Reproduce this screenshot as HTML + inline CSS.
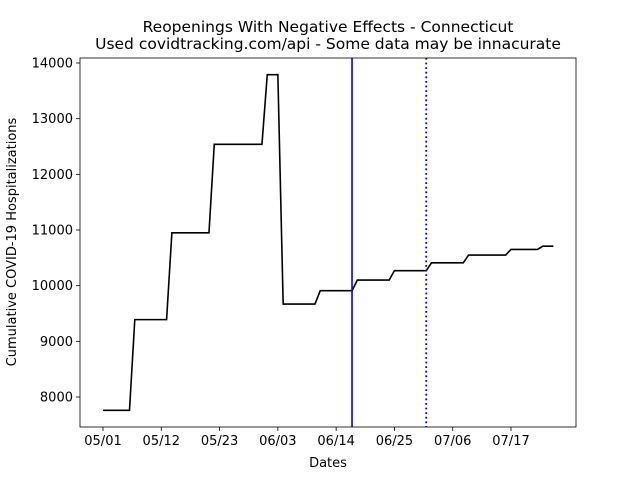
<!DOCTYPE html>
<html><head><meta charset="utf-8"><style>
body{margin:0;background:#fff;}
svg{display:block;font-family:"DejaVu Sans","Liberation Sans",sans-serif;}
</style></head><body>
<svg id="chart" width="640" height="480" viewBox="0 0 640 480"></svg>
<script>
// day offsets from 05/01
const tickDays=[0,11,22,33,44,55,66,77];
const tickLabels=["05/01","05/12","05/23","06/03","06/14","06/25","07/06","07/17"];
const yTicks=[8000,9000,10000,11000,12000,13000,14000];
const values=[7760,7760,7760,7760,7760,7760,
9390,9390,9390,9390,9390,9390,9390,
10950,10950,10950,10950,10950,10950,10950,10950,
12540,12540,12540,12540,12540,12540,12540,12540,12540,12540,
13790,13790,13790,
9670,9670,9670,9670,9670,9670,9670,
9910,9910,9910,9910,9910,9910,9910,
10100,10100,10100,10100,10100,10100,10100,
10270,10270,10270,10270,10270,10270,10270,
10410,10410,10410,10410,10410,10410,10410,
10550,10550,10550,10550,10550,10550,10550,10550,
10650,10650,10650,10650,10650,10650,
10710,10710,10710];
const solidLineDay=47;
const dottedLineDay=61;

const NS="http://www.w3.org/2000/svg";
const svg=document.getElementById('chart');
const L=80,R=576,T=58,B=427;
const x=d=>103+d*(511-103)/77;
const y=v=>397-(v-8000)*(397-63)/6000;
function el(t,a,p){const e=document.createElementNS(NS,t);for(const k in a)e.setAttribute(k,a[k]);(p||svg).appendChild(e);return e;}

const title=el('text',{x:328,y:32,'text-anchor':'middle','font-size':15.5});


title.textContent="Reopenings With Negative Effects - Connecticut";
const sub=el('text',{x:328,y:49,'text-anchor':'middle','font-size':15.5});


sub.textContent="Used covidtracking.com/api - Some data may be innacurate";

let pts=values.map((v,i)=>x(i).toFixed(2)+','+y(v).toFixed(2)).join(' ');
const line=el('polyline',{points:pts,fill:'none',stroke:'#000','stroke-width':1.6});



const v1=el('line',{x1:x(solidLineDay),x2:x(solidLineDay),y1:T,y2:B,stroke:'#0000ff','stroke-width':1.6});


const v2=el('line',{x1:x(dottedLineDay),x2:x(dottedLineDay),y1:T,y2:B,stroke:'#0000ff','stroke-width':1.8,'stroke-dasharray':'1.8,2.8'});



const frame=el('rect',{x:L,y:T,width:R-L,height:B-T,fill:'none',stroke:'#000','stroke-width':0.8});



tickDays.forEach((d,i)=>{
  const tk=el('line',{x1:x(d),x2:x(d),y1:B,y2:B+4,stroke:'#000','stroke-width':0.8});
  
  
  const t=el('text',{x:x(d),y:B+18,'text-anchor':'middle','font-size':13});
  
  
  t.textContent=tickLabels[i];
});
yTicks.forEach(v=>{
  const tk=el('line',{x1:L-4,x2:L,y1:y(v),y2:y(v),stroke:'#000','stroke-width':0.8});
  
  
  const t=el('text',{x:L-7,y:y(v)+4.5,'text-anchor':'end','font-size':13});
  
  
  t.textContent=v;
});
const xt=el('text',{x:328,y:467,'text-anchor':'middle','font-size':13});


xt.textContent="Dates";
const yt=el('text',{x:16,y:242,'text-anchor':'middle','font-size':13,transform:'rotate(-90 16 242)'});


yt.textContent="Cumulative COVID-19 Hospitalizations";
</script>
</body></html>
